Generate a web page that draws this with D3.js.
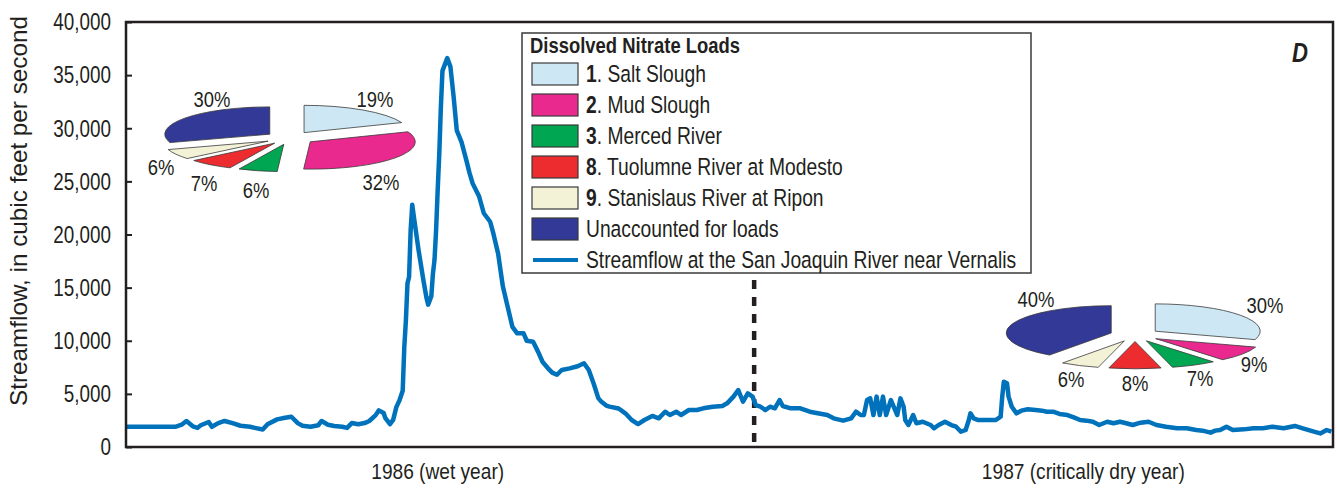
<!DOCTYPE html>
<html>
<head>
<meta charset="utf-8">
<script src="https://cdn.jsdelivr.net/npm/d3@7"></script>
<style>
  html, body { margin: 0; padding: 0; background: #fff; }
  svg { display: block; }
  text { font-family: 'Liberation Sans', Arial, sans-serif; fill: #231f20; }
</style>
</head>
<body>
<svg id="chart" width="1337" height="488"></svg>
<script>
// Daily streamflow, San Joaquin River near Vernalis (day of record from 1 Sep 1985, cfs)
const flowDay = [0, 31, 35, 38, 42, 45, 47, 52, 54, 58, 62, 67, 72, 78, 81, 86, 89, 95, 100, 104,
  108, 111, 116, 121, 123, 127, 131, 136, 139, 142, 146, 150, 153, 157, 159, 162, 163, 166, 168, 170,
  172, 174, 175, 176, 177, 178, 179, 180, 181, 184, 187, 189, 190, 192, 193, 194, 195, 196, 197, 198,
  199, 202, 204, 206, 208, 211, 214, 216, 218, 222, 225, 229, 231, 234, 237, 240, 243, 246, 250, 252,
  256, 259, 262, 266, 268, 271, 274, 279, 284, 288, 291, 294, 297, 299, 302, 304, 309, 310, 314, 318,
  322, 326, 331, 335, 339, 342, 346, 349, 354, 359, 363, 369, 375, 378, 382, 385, 388, 391, 394, 396,
  399, 402, 405, 408, 411, 413, 418, 424, 430, 435, 441, 445, 451, 456, 459, 462, 464, 466, 468, 470,
  472, 474, 476, 478, 481, 485, 487, 489, 490, 492, 495, 497, 501, 506, 508, 511, 515, 519, 522, 525,
  528, 530, 531, 533, 536, 541, 547, 550, 551, 552, 554, 555, 557, 560, 563, 567, 572, 576, 579, 583,
  587, 592, 596, 600, 604, 608, 612, 617, 621, 625, 629, 633, 638, 643, 648, 654, 661, 667, 673, 677,
  682, 685, 688, 692, 696, 703, 709, 715, 721, 728, 735, 740, 747, 751, 755, 758];
const flowCfs = [1900, 1900, 2100, 2450, 1950, 1800, 2050, 2350, 1900, 2250, 2450, 2250, 2000, 1900, 1800, 1650, 2150, 2600, 2750, 2850,
  2250, 2000, 1900, 2050, 2450, 2100, 1980, 1900, 1800, 2250, 2150, 2250, 2450, 3000, 3450, 3200, 2750, 2150, 2550, 3750,
  4400, 5300, 9400, 11900, 15400, 16000, 20400, 22800, 21700, 18500, 15700, 14000, 13400, 14200, 16300, 17600, 20400, 24200, 27600, 32000,
  35400, 36600, 35800, 33000, 29800, 28700, 27000, 25800, 24800, 23600, 22000, 21200, 20100, 18200, 15100, 13200, 11300, 10700, 10700, 10000,
  9900, 9000, 8000, 7300, 7000, 6800, 7250, 7400, 7600, 7880, 7250, 6000, 4600, 4250, 3900, 3800, 3650, 3600, 3170, 2540,
  2160, 2540, 2920, 2700, 3320, 3010, 3320, 3010, 3480, 3480, 3640, 3790, 3860, 4110, 4740, 5360, 4260, 5050, 4740, 3950,
  3790, 3480, 3790, 3640, 4420, 3860, 3640, 3640, 3320, 3170, 3010, 2700, 2480, 2700, 3320, 3010, 3000, 4420, 4580, 3010,
  4740, 3010, 4740, 3010, 4420, 3010, 4580, 3790, 2540, 2070, 3010, 2230, 2380, 2070, 1760, 2070, 2380, 2070, 1910, 1440,
  1600, 2540, 3170, 2700, 2540, 2540, 2540, 2850, 4740, 6150, 6000, 4740, 3790, 3170, 3420, 3550, 3480, 3420, 3320, 3320,
  3110, 3010, 2790, 2540, 2480, 2380, 2070, 2380, 2230, 2380, 2230, 2070, 2290, 2380, 2070, 1910, 1760, 1760, 1600, 1540,
  1350, 1540, 1600, 1910, 1600, 1660, 1760, 1760, 1910, 1760, 1980, 1760, 1440, 1280, 1600, 1440];

// Water-year boundary (1 Oct 1986) and year label positions, in day of record
const yearBoundaryDay = 395;
const yearLabels = ["1986 (wet year)", "1987 (critically dry year)"];
const yearLabelDay = [196, 602];

// Y-axis ticks
const yTicks = [0, 5000, 10000, 15000, 20000, 25000, 30000, 35000, 40000];

// Nitrate-load sources and their shares (percent) for each water year
const sourceIds = ["1", "2", "3", "8", "9", ""];
const sourceNames = ["Salt Slough", "Mud Slough", "Merced River", "Tuolumne River at Modesto",
  "Stanislaus River at Ripon", "Unaccounted for loads"];
const sourceColors = ["#cde8f4", "#e9298e", "#00a651", "#ec2c2e", "#f4f2d6", "#323996"];
const share1986 = [19, 32, 6, 7, 6, 30];
const share1987 = [30, 9, 7, 8, 6, 40];

const svg = d3.select("#chart");
const plot = { left: 126, right: 1333, top: 22, bottom: 447 };
const NARROW = 0.82; // horizontal condensing applied to the lettering

const x = d3.scaleLinear().domain([0, 759]).range([plot.left, plot.right]);
const y = d3.scaleLinear().domain([0, 40000]).range([plot.bottom, plot.top]);

const at = (px, py, k = NARROW) => `translate(${px},${py}) scale(${k},1)`;

// Y axis: labels outside, short ticks pointing into the plot
const yAxis = d3.axisRight(y).tickValues(yTicks).tickSize(6).tickFormat("");
const gy = svg.append("g").attr("transform", `translate(${plot.left},0)`).call(yAxis);
gy.select(".domain").remove();
gy.selectAll(".tick line").attr("stroke", "#231f20").attr("stroke-width", 2);

svg.append("g").selectAll("text").data(yTicks).join("text")
  .attr("transform", d => at(111, y(d)))
  .attr("dy", "0.36em").attr("text-anchor", "end").attr("font-size", 23)
  .text(d => d3.format(",")(d));

svg.append("text")
  .attr("transform", `translate(27,211) rotate(-90)`)
  .attr("text-anchor", "middle").attr("font-size", 24)
  .attr("textLength", 390).attr("lengthAdjust", "spacingAndGlyphs")
  .text("Streamflow, in cubic feet per second");

// Year labels beneath the plot
svg.append("g").selectAll("text").data(yearLabels).join("text")
  .attr("transform", (d, i) => at(x(yearLabelDay[i]), 479, 0.85))
  .attr("text-anchor", "middle").attr("font-size", 22.5)
  .text(d => d);

// Water-year divider
svg.append("line")
  .attr("x1", x(yearBoundaryDay)).attr("x2", x(yearBoundaryDay))
  .attr("y1", 280).attr("y2", plot.bottom)
  .attr("stroke", "#231f20").attr("stroke-width", 4.5).attr("stroke-dasharray", "9,8");

// Streamflow line
const flow = flowDay.map((d, i) => ({ day: d, cfs: flowCfs[i] }));
svg.append("path").datum(flow)
  .attr("fill", "none").attr("stroke", "#0072bc").attr("stroke-width", 4.5)
  .attr("stroke-linejoin", "round")
  .attr("d", d3.line().x(d => x(d.day)).y(d => y(d.cfs)));

// Plot frame
svg.append("rect")
  .attr("x", plot.left).attr("y", plot.top)
  .attr("width", plot.right - plot.left).attr("height", plot.bottom - plot.top)
  .attr("fill", "none").attr("stroke", "#231f20").attr("stroke-width", 2.5);

// Panel letter
svg.append("text").attr("transform", at(1300, 62)).attr("text-anchor", "middle")
  .attr("font-size", 27).attr("font-weight", "bold").attr("font-style", "italic")
  .text("D");

// Exploded, tilted pie of nitrate-load shares
function drawPie(shares, cx, cy, labelPos) {
  const r = 105, tilt = 0.26, explode = 25;
  const arcs = d3.pie().sort(null).value(d => d)(shares);
  const arc = d3.arc().innerRadius(0).outerRadius(r);
  const g = svg.append("g").attr("transform", `translate(${cx},${cy}) scale(1,${tilt})`);
  g.selectAll("path").data(arcs).join("path")
    .attr("transform", d => {
      const a = (d.startAngle + d.endAngle) / 2;
      return `translate(${explode * Math.sin(a)},${-explode * Math.cos(a)})`;
    })
    .attr("d", arc)
    .attr("fill", (d, i) => sourceColors[i])
    .attr("stroke", "#3a3a3a").attr("stroke-width", 0.8)
    .attr("vector-effect", "non-scaling-stroke");
  svg.append("g").selectAll("text").data(shares).join("text")
    .attr("transform", (d, i) => at(labelPos[i][0], labelPos[i][1]))
    .attr("text-anchor", "middle").attr("font-size", 22.5)
    .text(d => d + "%");
}

drawPie(share1986, 290, 138, [[375, 107], [381, 190], [256, 198], [204, 191], [161, 175], [212, 107]]);
drawPie(share1987, 1135, 335, [[1265, 313], [1254, 372], [1200, 386], [1135, 391], [1071, 387], [1036, 307]]);

// Legend
const lg = svg.append("g");
lg.append("rect").attr("x", 522).attr("y", 33).attr("width", 509).attr("height", 240)
  .attr("fill", "#fff").attr("stroke", "#3a3a3a").attr("stroke-width", 1.5);
lg.append("text").attr("transform", at(530, 53)).attr("font-size", 22.5).attr("font-weight", "bold")
  .text("Dissolved Nitrate Loads");
const rowY = i => 74 + 31 * i;
lg.selectAll("rect.sw").data(sourceNames).join("rect").attr("class", "sw")
  .attr("x", 532).attr("y", (d, i) => rowY(i) - 11).attr("width", 46).attr("height", 22)
  .attr("fill", (d, i) => sourceColors[i]).attr("stroke", "#3a3a3a").attr("stroke-width", 1.2);
const lt = lg.selectAll("text.item").data(sourceNames).join("text").attr("class", "item")
  .attr("transform", (d, i) => at(586, rowY(i))).attr("dy", "0.36em").attr("font-size", 23.5);
lt.each(function (d, i) {
  const t = d3.select(this);
  if (sourceIds[i]) {
    t.append("tspan").attr("font-weight", "bold").text(sourceIds[i]);
    t.append("tspan").text(". " + d);
  } else {
    t.text(d);
  }
});
lg.append("line").attr("x1", 533).attr("x2", 578).attr("y1", rowY(6)).attr("y2", rowY(6))
  .attr("stroke", "#0072bc").attr("stroke-width", 4);
lg.append("text").attr("transform", at(586, rowY(6))).attr("dy", "0.36em").attr("font-size", 23.5)
  .text("Streamflow at the San Joaquin River near Vernalis");
</script>
</body>
</html>
